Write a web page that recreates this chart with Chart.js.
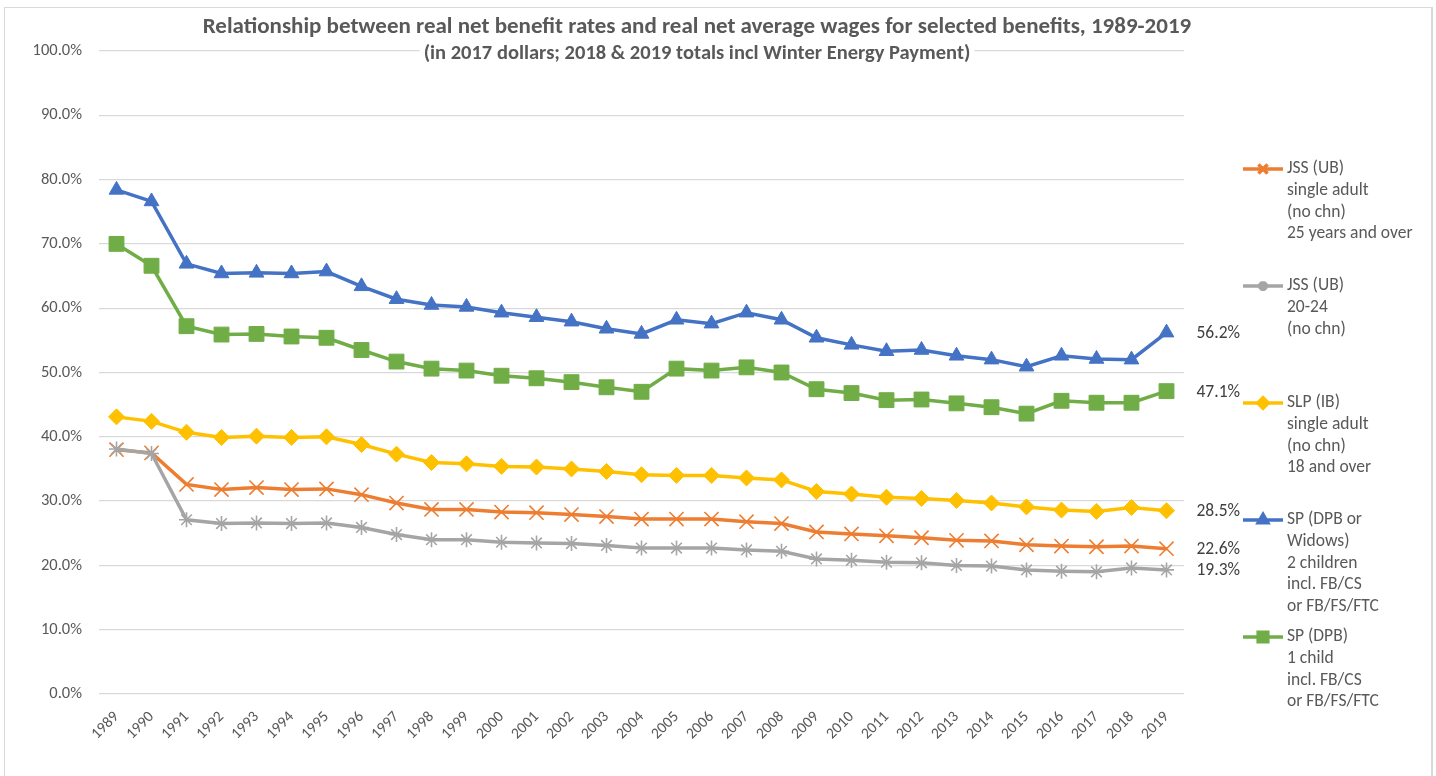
<!DOCTYPE html>
<html>
<head>
<meta charset="utf-8">
<script src="https://cdn.jsdelivr.net/npm/chart.js@4.4.1/dist/chart.umd.min.js"></script>
<style>
    html, body { margin: 0; padding: 0; background: #fff; }
    #wrap { position: relative; width: 1436px; height: 776px; overflow: hidden; }
    #frame { position: absolute; left: 4px; top: 7px; width: 1426px; height: 800px;
             border: 1px solid #d9d9d9; border-right-width: 2px; pointer-events: none; }
    canvas { position: absolute; left: 0; top: 0; }
</style>
</head>
<body>
<div id="wrap">
    <canvas id="benefitChart" width="1436" height="776"></canvas>
    <div id="frame"></div>
</div>
<script>
const years = ['1989','1990','1991','1992','1993','1994','1995','1996','1997','1998','1999','2000',
    '2001','2002','2003','2004','2005','2006','2007','2008','2009','2010','2011','2012','2013',
    '2014','2015','2016','2017','2018','2019'];

// percent of real net average wage
const jssOver25 = [38.0,37.5,32.6,31.8,32.1,31.8,31.9,31.0,29.7,28.7,28.7,28.3,28.2,27.9,27.6,27.2,
    27.2,27.2,26.8,26.5,25.2,24.9,24.6,24.3,23.9,23.8,23.2,23.0,22.9,23.0,22.6];
const jss2024 = [38.1,37.4,27.1,26.5,26.6,26.5,26.6,25.9,24.8,24.0,24.0,23.6,23.5,23.4,23.1,22.7,
    22.7,22.7,22.4,22.2,21.0,20.8,20.5,20.4,20.0,19.9,19.3,19.1,19.0,19.6,19.3];
const slpSingle = [43.1,42.4,40.7,39.9,40.1,39.9,40.0,38.8,37.3,36.0,35.8,35.4,35.3,35.0,34.6,34.1,
    34.0,34.0,33.6,33.3,31.5,31.1,30.6,30.4,30.1,29.7,29.1,28.6,28.4,29.0,28.5];
const spTwoKids = [78.4,76.6,66.9,65.4,65.5,65.4,65.7,63.4,61.4,60.5,60.2,59.3,58.6,57.9,56.8,56.0,
    58.2,57.6,59.3,58.2,55.4,54.3,53.3,53.5,52.6,52.0,50.9,52.6,52.1,52.0,56.2];
const spOneKid = [70.0,66.6,57.2,55.9,56.0,55.6,55.4,53.5,51.7,50.6,50.3,49.5,49.1,48.5,47.7,47.0,
    50.6,50.3,50.8,50.0,47.4,46.8,45.7,45.8,45.2,44.6,43.6,45.6,45.3,45.3,47.1];

const seriesNames = [
    ['JSS (UB)', 'single adult', '(no chn)', '25 years and over'],
    ['JSS (UB)', '20-24', '(no chn)'],
    ['SLP (IB)', 'single adult', '(no chn)', '18 and over'],
    ['SP (DPB or', 'Widows)', '2 children', 'incl. FB/CS', 'or FB/FS/FTC'],
    ['SP (DPB)', '1 child', 'incl. FB/CS', 'or FB/FS/FTC']
];

const FONT = 'Carlito, Lato, sans-serif';
const TEXT = '#595959';

function series(i, data, color, style, radius) {
    return {
        label: seriesNames[i].join(' '),
        data: data,
        borderColor: color,
        backgroundColor: color,
        pointBackgroundColor: color,
        pointBorderColor: color,
        pointStyle: style,
        pointRadius: radius,
        pointBorderWidth: (style === 'crossRot' || style === 'star') ? 1.6 : 1,
        borderWidth: 3.5,
        tension: 0,
        order: 5 - i
    };
}

const datasets = [
    series(0, jssOver25, '#ED7D31', 'crossRot', 10),
    series(1, jss2024, '#A5A5A5', 'star', 7.5),
    series(2, slpSingle, '#FFC000', 'rectRot', 8),
    series(3, spTwoKids, '#4472C4', 'triangle', 8.5),
    series(4, spOneKid, '#70AD47', 'rect', 10.5)
];

const decor = {
    id: 'decor',
    afterDatasetsDraw(chart) {
        // value labels on the last point of each series
        const ctx = chart.ctx;
        ctx.save();
        ctx.font = '17.5px ' + FONT;
        ctx.fillStyle = '#404040';
        ctx.textBaseline = 'middle';
        ctx.textAlign = 'left';
        chart.data.datasets.forEach((ds, i) => {
            const meta = chart.getDatasetMeta(i);
            const pt = meta.data[meta.data.length - 1];
            const v = ds.data[ds.data.length - 1];
            ctx.fillText(v.toFixed(1) + '%', pt.x + 30, pt.y + 1);
        });
        ctx.restore();
    },
    afterDraw(chart) {
        const ctx = chart.ctx;
        ctx.save();
        ctx.fillStyle = TEXT;
        ctx.textAlign = 'center';
        ctx.textBaseline = 'middle';
        ctx.font = 'bold 23px ' + FONT;
        ctx.fillText('Relationship between real net benefit rates and real net average wages for selected benefits, 1989-2019', 697, 27, 1008);
        ctx.font = 'bold 20.5px ' + FONT;
        const sub = '(in 2017 dollars; 2018 & 2019 totals incl Winter Energy Payment)';
        const w = Math.min(ctx.measureText(sub).width, 575);
        ctx.fillStyle = '#fff';
        ctx.fillRect(697 - w / 2 - 4, 43, w + 8, 21);
        ctx.fillStyle = TEXT;
        ctx.fillText(sub, 697, 54, 575);

        // legend
        ctx.font = '17.5px ' + FONT;
        ctx.textAlign = 'left';
        chart.data.datasets.forEach((ds, i) => {
            const y0 = 169 + i * 117;
            ctx.strokeStyle = ds.borderColor;
            ctx.lineWidth = 3.5;
            ctx.beginPath();
            ctx.moveTo(1243, y0);
            ctx.lineTo(1283, y0);
            ctx.stroke();
            ctx.fillStyle = ds.borderColor;
            ctx.strokeStyle = ds.borderColor;
            if (Chart.helpers && Chart.helpers.drawPoint) {
                Chart.helpers.drawPoint(ctx, {
                    pointStyle: ds.pointStyle,
                    radius: ds.pointRadius * 0.65,
                    borderWidth: ds.pointStyle === 'star' ? 1.2 : ds.pointBorderWidth,
                    rotation: 0
                }, 1263, y0);
            }
            ctx.fillStyle = TEXT;
            seriesNames[i].forEach((line, k) => {
                ctx.fillText(line, 1287, y0 + k * 21.6);
            });
        });
        ctx.restore();
    }
};

new Chart(document.getElementById('benefitChart'), {
    type: 'line',
    data: { labels: years, datasets: datasets },
    options: {
        responsive: false,
        animation: false,
        layout: { padding: { left: 10, right: 252, top: 51, bottom: 0 } },
        plugins: {
            legend: { display: false },
            title: { display: false },
            tooltip: { enabled: false }
        },
        scales: {
            x: {
                offset: true,
                grid: { display: false },
                border: { display: false },
                ticks: {
                    color: TEXT,
                    font: { family: FONT, size: 15.5 },
                    minRotation: 45,
                    maxRotation: 45,
                    padding: 6,
                    autoSkip: false
                },
                afterFit: s => { s.height = 82; }
            },
            y: {
                min: 0,
                max: 100,
                grid: { color: '#d9d9d9', lineWidth: 1.3, drawTicks: false },
                border: { display: false },
                ticks: {
                    stepSize: 10,
                    color: TEXT,
                    padding: 17,
                    font: { family: FONT, size: 16.5 },
                    callback: v => v.toFixed(1) + '%'
                },
                afterFit: s => { s.width = 89; }
            }
        }
    },
    plugins: [decor]
});
</script>
</body>
</html>
